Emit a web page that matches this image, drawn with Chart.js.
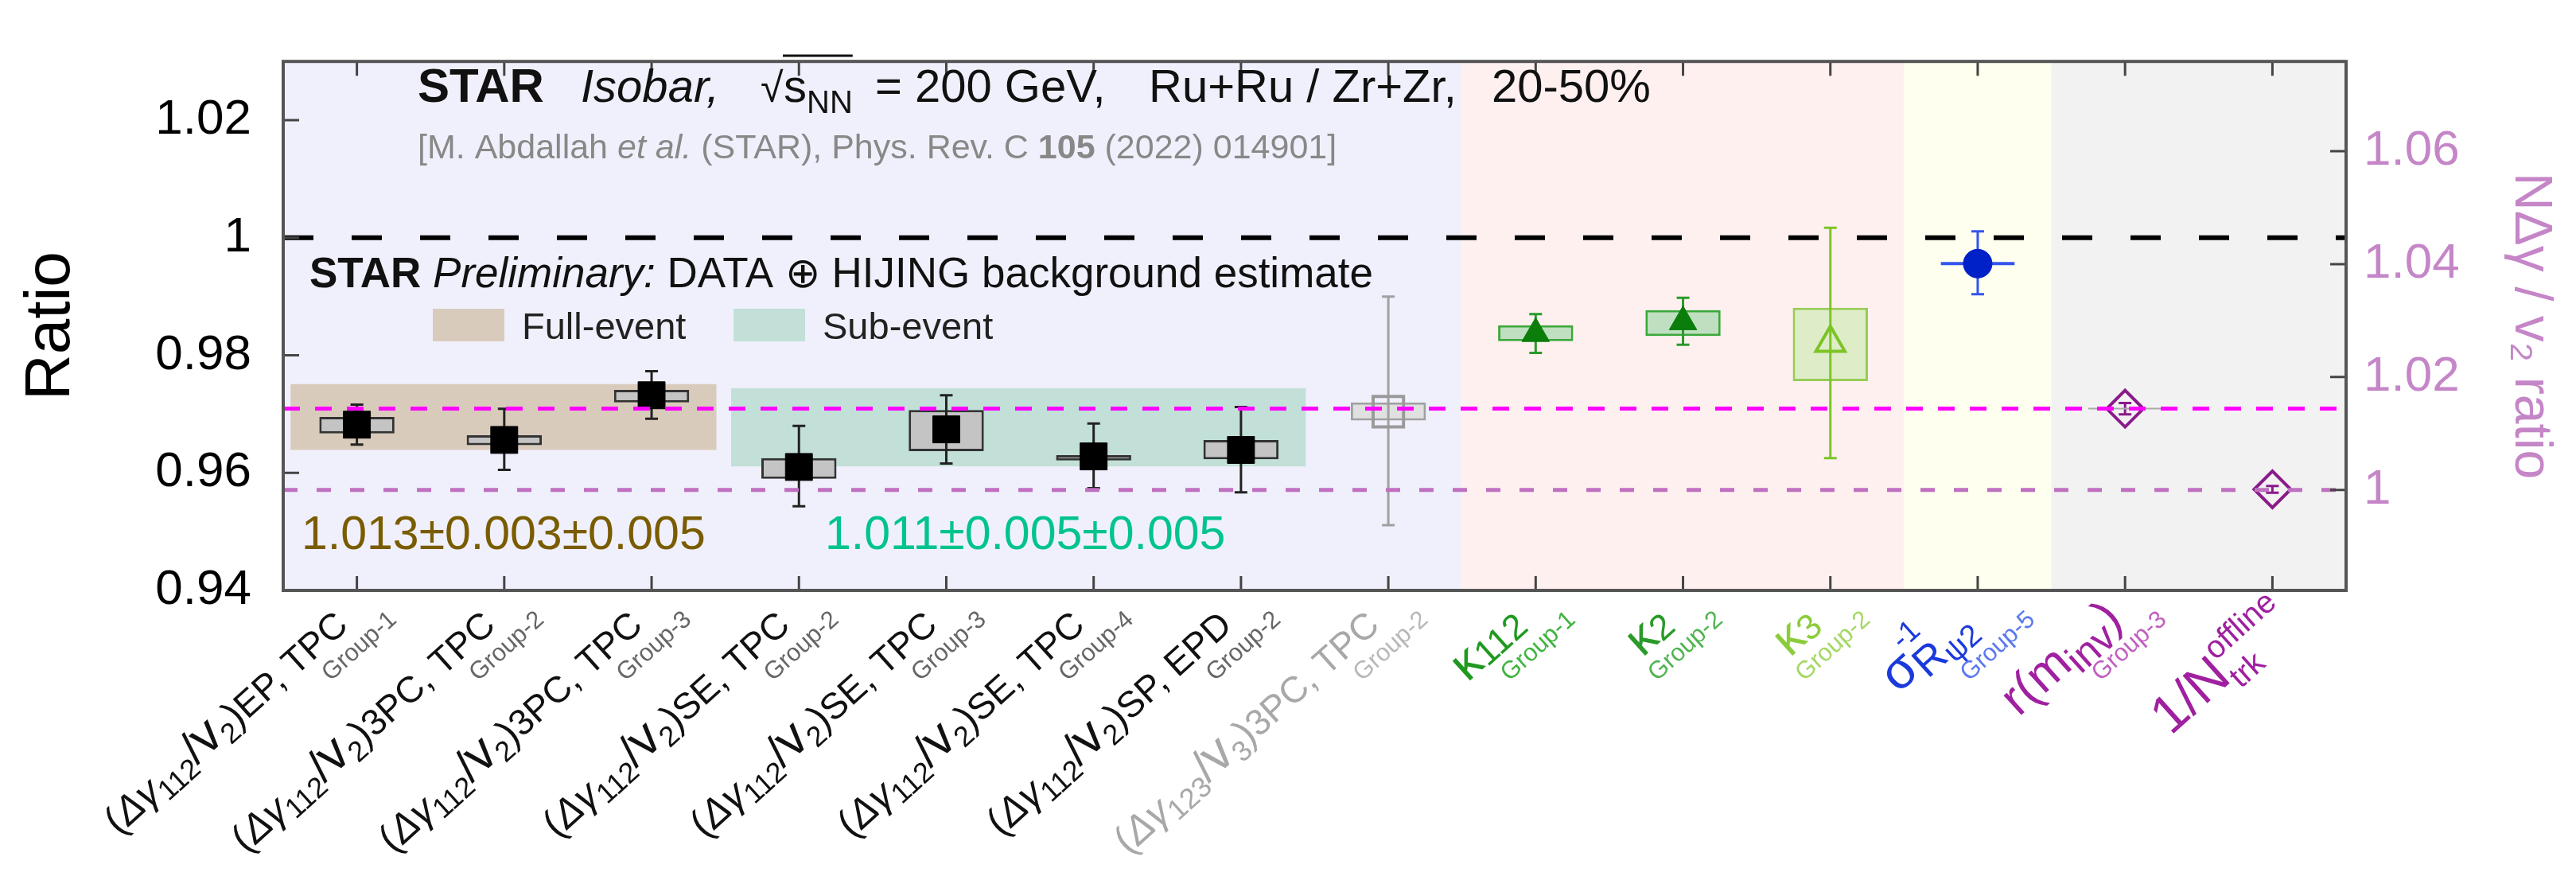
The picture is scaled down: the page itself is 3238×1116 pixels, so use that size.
<!DOCTYPE html>
<html>
<head>
<meta charset="utf-8">
<script src="https://cdn.jsdelivr.net/npm/chart.js@4.4.0/dist/chart.umd.min.js"></script>
<style>
  html, body { margin: 0; padding: 0; background: #fff; }
  #wrap { width: 3238px; height: 1116px; }
</style>
</head>
<body>
<div id="wrap"><canvas id="chart"></canvas></div>
<script>
const FONT = "'Liberation Sans', Arial, sans-serif";

// categories (one per measurement)
const categories = ['EP,TPC G1', '3PC,TPC G2', '3PC,TPC G3', 'SE,TPC G2', 'SE,TPC G3', 'SE,TPC G4', 'SP,EPD G2',
  'g123 3PC,TPC G2', 'k112 G1', 'k2 G2', 'k3 G2', 'sigma G5', 'r(minv) G3', '1/Ntrk'];

// ratio values on the left axis
const ratio    = [0.9682, 0.9656, 0.9732, 0.9610, 0.9674, 0.9628, 0.9639, 0.9704, 0.9837, 0.9857, 0.9821, 0.9956, null, null];
const statLow  = [0.9648, 0.9605, 0.9692, 0.9543, 0.9616, 0.9574, 0.9567, 0.9511, 0.9804, 0.9818, 0.9625, 0.9904, null, null];
const statHigh = [0.9716, 0.9709, 0.9773, 0.9680, 0.9732, 0.9684, 0.9712, 0.9900, 0.9870, 0.9898, 1.0017, 1.0011, null, null];
const sysLow   = [0.9667, 0.9647, 0.9720, 0.9590, 0.9637, 0.9621, 0.9623, 0.9689, 0.9824, 0.9833, 0.9756, null, null, null];
const sysHigh  = [0.9695, 0.9664, 0.9741, 0.9625, 0.9707, 0.9630, 0.9656, 0.9720, 0.9851, 0.9877, 0.9881, null, null, null];
const xErr     = [0, 0, 0, 0, 0, 0, 0, 0, 0, 0, 0, 0.25, 0.25, 0];

// N dgamma / v2 ratio on the right axis
const nRatio = [null, null, null, null, null, null, null, null, null, null, null, null, 1.0144, 1.0001];
const nLow   = [null, null, null, null, null, null, null, null, null, null, null, null, 1.0134, 0.9995];
const nHigh  = [null, null, null, null, null, null, null, null, null, null, null, null, 1.0154, 1.0007];

const yTicks = [0.94, 0.96, 0.98, 1, 1.02];
const y2Ticks = [1, 1.02, 1.04, 1.06];

// averaged bands
const bandNames = ['Full-event', 'Sub-event'];
const bandFrom = [-0.45, 2.54];
const bandTo = [2.44, 6.44];
const bandLow = [0.9639, 0.9611];
const bandHigh = [0.9751, 0.9744];
const bandText = ['1.013\u00b10.003\u00b10.005', '1.011\u00b10.005\u00b10.005'];

// reference lines
const refValues = [1, 1.0144, 1.0];
const refAxes = ['y', 'y2', 'y2'];

// background groups (last category of each group)
const regionLast = [7, 10, 11, 13];

// x tick labels: [text, size factor, baseline shift (em), style]
const dg = (a, b, tail) => [['(', 1], ['\u0394\u03b3', 1, 0, 'i'], [a, 0.72, 0.2], ['/', 1.15], ['v', 1.3], [b, 0.72, 0.2], [')', 1], [tail, 0.92]];
const tickLabels = [
  dg('112', '2', 'EP, TPC'),
  dg('112', '2', '3PC, TPC'),
  dg('112', '2', '3PC, TPC'),
  dg('112', '2', 'SE, TPC'),
  dg('112', '2', 'SE, TPC'),
  dg('112', '2', 'SE, TPC'),
  dg('112', '2', 'SP, EPD'),
  dg('123', '3', '3PC, TPC'),
  [['\u03ba', 1.25], ['112', 0.9, 0.05]],
  [['\u03ba', 1.25], ['2', 0.9, 0.05]],
  [['\u03ba', 1.25], ['3', 0.9, 0.05]],
  [['\u03c3', 1.3], ['-1', 0.75, -0.75, 's'], ['R', 1.05, 0.22], ['\u03c82', 0.78, 0.38]],
  [['r(m', 1.25], ['inv', 1.0, 0.25], [')', 1.25]],
  [['1/N', 1.35], ['trk', 0.8, 0.3, 's'], ['offline', 0.8, -0.65]]
];
const tickGroups = ['Group-1', 'Group-2', 'Group-3', 'Group-2', 'Group-3', 'Group-4', 'Group-2', 'Group-2',
  'Group-1', 'Group-2', 'Group-2', 'Group-5', 'Group-3', ''];

// styles
const tickColors = ['#111', '#111', '#111', '#111', '#111', '#111', '#111', '#a8a8a8', '#1f9a1f', '#2a9a2a', '#8ccc3c', '#1a3adc', '#a020a0', '#a020a0'];
const groupColors = ['#666', '#666', '#666', '#666', '#666', '#666', '#666', '#b8b8b8', '#40b440', '#50b450', '#a4d864', '#5a78f0', '#c060c0', '#c060c0'];
const labelShift = [[0, 0], [0, 0], [0, 0], [0, 0], [0, 0], [0, 0], [0, 0], [0, 0], [0, 0], [0, 0], [0, 0], [4, -2], [8, -7], [38, -5]];
const groupShift = [0, 0, 0, 0, 0, 0, 0, 0, 0, 0, 0, 22, 2, 0];
const errColors = ['#222', '#222', '#222', '#222', '#222', '#222', '#222', '#a0a0a0', '#2a9a2a', '#2a9a2a', '#7cc425', '#3355ee', '#8a1a8a', '#8a1a8a'];
const regionColors = ['#f0f0fc', '#fff0f0', '#fffff0', '#f2f2f2'];
const bandColors = ['#d9cbbb', '#c2e0d8'];
const bandTextColors = ['#7a5c00', '#00c48c'];
const refColors = ['#000', '#ff00ff', '#c070c0'];
const refDash = [[38, 48], [21, 19], [18, 24]];
const refWidth = [6, 5, 5];
const AXIS_PINK = '#c586c8';

function fmt(v) { return String(Math.round(v * 100) / 100); }

function segFont(size, st) {
  return (st === 'i' ? 'italic ' : '') + (st === 'b' ? 'bold ' : '') + size + 'px ' + FONT;
}

// style 's' = stacked segment (the next one is drawn at the same x)
function richWidth(ctx, segs, base) {
  let w = 0, stackW = 0;
  segs.forEach(s => {
    ctx.font = segFont(base * s[1], s[3]);
    const m = ctx.measureText(s[0]).width;
    if (s[3] === 's') { stackW = m; } else { w += Math.max(m, stackW); stackW = 0; }
  });
  return w;
}
function drawRich(ctx, segs, x, y, base, color) {
  let stackW = 0;
  segs.forEach(s => {
    ctx.font = segFont(base * s[1], s[3]);
    ctx.fillStyle = color;
    ctx.fillText(s[0], x, y + (s[2] || 0) * base);
    const m = ctx.measureText(s[0]).width;
    if (s[3] === 's') { stackW = m; } else { x += Math.max(m, stackW); stackW = 0; }
  });
  return x;
}
function text(ctx, str, x, y, size, style, color) {
  ctx.font = segFont(size, style);
  ctx.fillStyle = color;
  ctx.fillText(str, x, y);
  return x + ctx.measureText(str).width;
}

const decor = {
  id: 'decor',
  beforeDatasetsDraw(chart) {
    const { ctx, chartArea: a, scales: { x, y } } = chart;
    ctx.save();
    let first = 0;
    regionLast.forEach((last, k) => {
      const x0 = x.getPixelForValue(first - 0.5), x1 = x.getPixelForValue(last + 0.5);
      ctx.fillStyle = regionColors[k];
      ctx.fillRect(x0, a.top, x1 - x0, a.bottom - a.top);
      first = last + 1;
    });
    bandFrom.forEach((f, k) => {
      const x0 = x.getPixelForValue(f), x1 = x.getPixelForValue(bandTo[k]);
      const y0 = y.getPixelForValue(bandHigh[k]), y1 = y.getPixelForValue(bandLow[k]);
      ctx.fillStyle = bandColors[k];
      ctx.fillRect(x0, y0, x1 - x0, y1 - y0);
    });
    ctx.restore();
  },
  afterDatasetDraw(chart, args) {
    if (args.index !== 0) return;
    const { ctx, scales: { x, y, y2 } } = chart;
    ctx.save();
    categories.forEach((c, i) => {
      let sc = y, lo = statLow[i], hi = statHigh[i], v = ratio[i];
      if (lo === null) { sc = y2; lo = nLow[i]; hi = nHigh[i]; v = nRatio[i]; }
      if (lo === null) return;
      const px = x.getPixelForValue(i);
      const yl = sc.getPixelForValue(lo), yh = sc.getPixelForValue(hi);
      ctx.strokeStyle = errColors[i];
      ctx.lineWidth = 3;
      ctx.beginPath();
      ctx.moveTo(px, yl); ctx.lineTo(px, yh);
      ctx.moveTo(px - 8, yl); ctx.lineTo(px + 8, yl);
      ctx.moveTo(px - 8, yh); ctx.lineTo(px + 8, yh);
      ctx.stroke();
      if (xErr[i]) {
        const py = sc.getPixelForValue(v);
        ctx.lineWidth = i === 11 ? 4 : 2;
        ctx.strokeStyle = i === 11 ? errColors[i] : '#aaa';
        ctx.beginPath();
        ctx.moveTo(x.getPixelForValue(i - xErr[i]), py);
        ctx.lineTo(x.getPixelForValue(i + xErr[i]), py);
        ctx.stroke();
      }
    });
    ctx.restore();
  },
  afterDatasetsDraw(chart) {
    const { ctx, chartArea: a, scales } = chart;
    const { x, y, y2 } = scales;
    ctx.save();
    refValues.forEach((v, k) => {
      const py = scales[refAxes[k]].getPixelForValue(v);
      ctx.strokeStyle = refColors[k];
      ctx.lineWidth = refWidth[k];
      ctx.setLineDash(refDash[k]);
      ctx.beginPath();
      ctx.moveTo(a.left, py); ctx.lineTo(a.right, py);
      ctx.stroke();
    });
    ctx.setLineDash([]);
    // inward tick marks
    ctx.strokeStyle = '#444';
    ctx.lineWidth = 3;
    ctx.beginPath();
    categories.forEach((c, i) => {
      const px = x.getPixelForValue(i);
      ctx.moveTo(px, a.top); ctx.lineTo(px, a.top + 18);
      ctx.moveTo(px, a.bottom); ctx.lineTo(px, a.bottom - 18);
    });
    yTicks.forEach(v => {
      const py = y.getPixelForValue(v);
      ctx.moveTo(a.left, py); ctx.lineTo(a.left + 20, py);
    });
    y2Ticks.forEach(v => {
      const py = y2.getPixelForValue(v);
      ctx.moveTo(a.right, py); ctx.lineTo(a.right - 20, py);
    });
    ctx.stroke();
    // frame
    ctx.strokeStyle = '#555';
    ctx.lineWidth = 4;
    ctx.strokeRect(a.left, a.top, a.right - a.left, a.bottom - a.top);
    ctx.restore();
  },
  afterDraw(chart) {
    const { ctx, chartArea: a, scales: { x } } = chart;
    ctx.save();
    ctx.textBaseline = 'alphabetic';
    // header
    text(ctx, 'STAR', 525, 128, 60, 'b', '#111');
    text(ctx, 'Isobar,', 730, 128, 58, 'i', '#111');
    text(ctx, '\u221a', 956, 128, 52, '', '#111');
    let xe = text(ctx, 's', 985, 128, 58, '', '#111');
    xe = text(ctx, 'NN', xe, 142, 40, '', '#111');
    ctx.strokeStyle = '#111';
    ctx.lineWidth = 3;
    ctx.beginPath(); ctx.moveTo(984, 70); ctx.lineTo(xe, 70); ctx.stroke();
    text(ctx, '= 200 GeV,', 1100, 128, 58, '', '#111');
    text(ctx, 'Ru+Ru / Zr+Zr,', 1444, 128, 58, '', '#111');
    text(ctx, '20-50%', 1875, 128, 58, '', '#111');
    // reference
    let cx = text(ctx, '[M. Abdallah ', 525, 199, 43, '', '#888');
    cx = text(ctx, 'et al.', cx, 199, 43, 'i', '#888');
    cx = text(ctx, ' (STAR), Phys. Rev. C ', cx, 199, 43, '', '#888');
    cx = text(ctx, '105', cx, 199, 43, 'b', '#888');
    text(ctx, ' (2022) 014901]', cx, 199, 43, '', '#888');
    // preliminary line
    cx = text(ctx, 'STAR ', 389, 361, 53, 'b', '#111');
    cx = text(ctx, 'Preliminary:', cx, 361, 53, 'i', '#111');
    text(ctx, ' DATA \u2295 HIJING background estimate', cx, 361, 53, '', '#111');
    // legend
    const legX = [544, 922];
    bandNames.forEach((n, k) => {
      ctx.fillStyle = bandColors[k];
      ctx.fillRect(legX[k], 388, 90, 41);
      text(ctx, n, legX[k] + 112, 426, 47, '', '#222');
    });
    // band values
    const valX = [379, 1037];
    bandText.forEach((t, k) => text(ctx, t, valX[k], 690, 59, '', bandTextColors[k]));
    // x tick labels, rotated, right end of the baseline near the tick
    const base = 50, ang = 42 * Math.PI / 180;
    categories.forEach((c, i) => {
      const px = x.getPixelForValue(i);
      const segs = tickLabels[i];
      ctx.save();
      ctx.translate(px - 9 + labelShift[i][0], a.bottom + 47 + labelShift[i][1]);
      ctx.rotate(-ang);
      const w = richWidth(ctx, segs, base);
      drawRich(ctx, segs, -w, 0, base, tickColors[i]);
      ctx.restore();
      if (tickGroups[i]) {
        ctx.save();
        ctx.translate(px - 33 + groupShift[i], a.bottom + 115);
        ctx.rotate(-ang);
        text(ctx, tickGroups[i], 0, 0, 31, '', groupColors[i]);
        ctx.restore();
      }
    });
    ctx.restore();
  }
};

Chart.defaults.font.family = FONT;

new Chart(document.getElementById('chart'), {
  type: 'bar',
  data: {
    labels: categories,
    datasets: [
      {
        type: 'bar',
        label: 'sys',
        data: sysLow.map((v, i) => (v === null ? null : [v, sysHigh[i]])),
        yAxisID: 'y',
        backgroundColor: ['#c4c4c4', '#c4c4c4', '#c4c4c4', '#c4c4c4', '#c4c4c4', '#c4c4c4', '#c4c4c4', '#e0e0e0', '#bfe0c0', '#bfe0c0', '#deedc8'],
        borderColor: ['#333', '#333', '#333', '#333', '#333', '#333', '#333', '#a0a0a0', '#3aa83a', '#3aa83a', '#96cc55'],
        borderWidth: 3,
        borderSkipped: false,
        barPercentage: 0.51,
        categoryPercentage: 1,
        order: 3
      },
      {
        type: 'line',
        label: 'ratio',
        data: ratio,
        yAxisID: 'y',
        showLine: false,
        pointStyle: ['rect', 'rect', 'rect', 'rect', 'rect', 'rect', 'rect', 'rect', 'triangle', 'triangle', 'triangle', 'circle'],
        pointRadius: [24, 24, 24, 24, 24, 24, 24, 27, 20, 20, 21, 18],
        pointBackgroundColor: ['#000', '#000', '#000', '#000', '#000', '#000', '#000', 'rgba(0,0,0,0)', '#0a7d0a', '#0a7d0a', 'rgba(0,0,0,0)', '#0020c8'],
        pointBorderColor: ['#000', '#000', '#000', '#000', '#000', '#000', '#000', '#9a9a9a', '#0a7d0a', '#0a7d0a', '#7cc425', '#0020c8'],
        pointBorderWidth: [1, 1, 1, 1, 1, 1, 1, 4, 1, 1, 4, 1],
        order: 1
      },
      {
        type: 'line',
        label: 'n ratio',
        data: nRatio,
        yAxisID: 'y2',
        showLine: false,
        pointStyle: 'rectRot',
        pointRadius: 23,
        pointBackgroundColor: 'rgba(0,0,0,0)',
        pointBorderColor: '#8a1a8a',
        pointBorderWidth: 4,
        order: 1
      }
    ]
  },
  options: {
    responsive: true,
    maintainAspectRatio: false,
    animation: false,
    events: [],
    layout: { padding: { top: 35, left: 0, right: 0, bottom: 0 } },
    plugins: { legend: { display: false }, tooltip: { enabled: false } },
    scales: {
      x: {
        offset: true,
        grid: { display: false, drawTicks: false },
        border: { display: false },
        ticks: { display: false },
        afterFit(s) { s.height = 374; }
      },
      y: {
        position: 'left',
        min: 0.94,
        max: 1.03,
        afterBuildTicks(s) { s.ticks = yTicks.map(v => ({ value: v })); },
        grid: { display: false, drawTicks: false },
        border: { display: false },
        ticks: { callback: v => fmt(v), color: '#000', font: { size: 62 }, padding: 40 },
        title: { display: true, text: 'Ratio', color: '#000', font: { size: 80 }, padding: { top: 17, bottom: 0 } },
        afterFit(s) { s.width = 356; }
      },
      y2: {
        position: 'right',
        min: 0.9822,
        max: 1.0759,
        afterBuildTicks(s) { s.ticks = y2Ticks.map(v => ({ value: v })); },
        grid: { display: false, drawTicks: false },
        border: { display: false },
        ticks: { callback: v => fmt(v), color: AXIS_PINK, font: { size: 62 }, padding: 22 },
        title: { display: true, text: 'N\u0394\u03b3 / v\u2082 ratio', color: AXIS_PINK, font: { size: 66 }, padding: { top: 18, bottom: 0 } },
        afterFit(s) { s.width = 289; }
      }
    }
  },
  plugins: [decor]
});
</script>
</body>
</html>
